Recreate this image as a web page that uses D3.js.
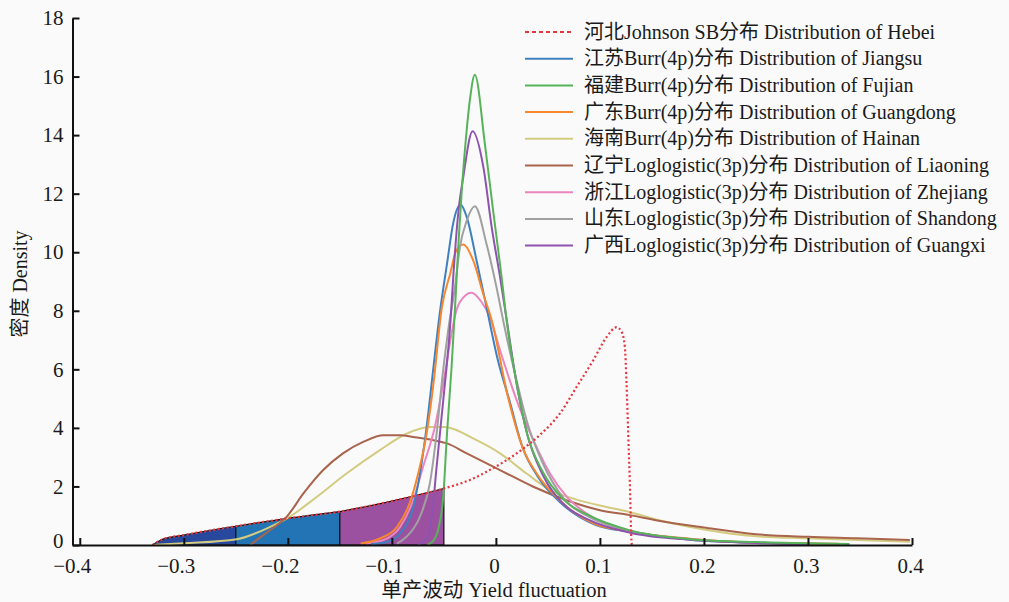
<!DOCTYPE html>
<html>
<head>
<meta charset="utf-8">
<script src="https://cdn.jsdelivr.net/npm/d3@7"></script>
<style>
  body { margin: 0; background: #fafafa; }
  svg { display: block; }
  text { font-family: "Liberation Serif", "Times New Roman", "Noto Sans CJK SC", serif; fill: #1a1a1a; }
</style>
</head>
<body>
<svg></svg>
<script>
const width = 1009;
const height = 602;

const xTicks = [-0.4, -0.3, -0.2, -0.1, 0, 0.1, 0.2, 0.3, 0.4];
const yTicks = [0, 2, 4, 6, 8, 10, 12, 14, 16, 18];

// shaded quantile bands under the Hebei curve
const bandEdges = [-0.33, -0.25, -0.15, -0.05];
const bandColors = ['#27489c', '#2374b5', '#9b51a0'];

// [yield fluctuation, density]
const hebei = [[-0.33, 0], [-0.32, 0.2], [-0.30, 0.34], [-0.25, 0.64], [-0.20, 0.91], [-0.15, 1.14],
  [-0.10, 1.5], [-0.05, 1.93], [-0.025, 2.22], [-0.006, 2.56], [0.02, 3.13], [0.042, 3.75],
  [0.0615, 4.49], [0.0776, 5.4], [0.0936, 6.31], [0.1064, 7.1], [0.116, 7.44], [0.121, 7.27],
  [0.124, 6.76], [0.1256, 5.51], [0.1272, 3.8], [0.1288, 2.1], [0.1305, 0.06], [0.131, 0]];
const jiangsu = [[-0.12, 0.03], [-0.105, 0.1], [-0.092, 0.4], [-0.0795, 1.3], [-0.073, 2.44],
  [-0.0666, 4.03], [-0.06, 6.08], [-0.054, 7.9], [-0.047, 9.6], [-0.041, 11.0], [-0.034, 11.63],
  [-0.028, 11.2], [-0.0186, 9.72], [-0.009, 8.12], [0.002, 6.3], [0.013, 4.94], [0.026, 3.3],
  [0.04, 2.35], [0.062, 1.45], [0.095, 0.7], [0.129, 0.45], [0.187, 0.18], [0.25, 0.08], [0.3, 0.04], [0.33, 0.03]];
const fujian = [[-0.066, 0], [-0.06, 0.15], [-0.055, 0.6], [-0.0506, 1.65], [-0.047, 3.8],
  [-0.0426, 6.08], [-0.0385, 8.6], [-0.036, 10.3], [-0.033, 12.0], [-0.028, 14.2], [-0.025, 15.2],
  [-0.0202, 16.06], [-0.0106, 13.7], [-0.0026, 11.4], [0.0055, 9.15], [0.0103, 7.67], [0.02, 5.5],
  [0.03, 3.8], [0.045, 2.5], [0.065, 1.55], [0.09, 1.0], [0.129, 0.5], [0.187, 0.2], [0.25, 0.1],
  [0.3, 0.06], [0.34, 0.03]];
const guangdong = [[-0.13, 0.05], [-0.111, 0.23], [-0.095, 0.62], [-0.083, 1.42], [-0.0747, 2.44],
  [-0.0666, 3.8], [-0.06, 5.51], [-0.052, 8.1], [-0.044, 9.26], [-0.038, 10.06], [-0.0314, 10.26],
  [-0.0218, 9.72], [-0.0122, 8.58], [-0.004, 7.67], [0.012, 5.0], [0.026, 3.3], [0.04, 2.4],
  [0.062, 1.5], [0.095, 0.72], [0.13, 0.45], [0.19, 0.2], [0.25, 0.08], [0.3, 0.05], [0.33, 0.04]];
const hainan = [[-0.33, 0], [-0.3, 0.06], [-0.249, 0.2], [-0.217, 0.62], [-0.198, 0.97],
  [-0.172, 1.65], [-0.1436, 2.44], [-0.1115, 3.24], [-0.086, 3.8], [-0.0635, 4.03], [-0.05, 4.03],
  [-0.0186, 3.58], [0.004, 3.13], [0.0295, 2.44], [0.052, 1.88], [0.0776, 1.55], [0.1064, 1.3],
  [0.129, 1.12], [0.155, 0.86], [0.2, 0.53], [0.25, 0.3], [0.3, 0.23], [0.347, 0.17], [0.398, 0.11]];
const liaoning = [[-0.236, 0], [-0.234, 0.06], [-0.217, 0.51], [-0.201, 0.97], [-0.185, 1.76],
  [-0.166, 2.56], [-0.147, 3.13], [-0.1276, 3.52], [-0.108, 3.75], [-0.092, 3.75], [-0.0795, 3.69],
  [-0.06, 3.58], [-0.047, 3.47], [-0.028, 3.13], [0.004, 2.56], [0.036, 1.99], [0.068, 1.53],
  [0.1, 1.19], [0.129, 1.02], [0.155, 0.84], [0.2, 0.6], [0.25, 0.37], [0.3, 0.28], [0.347, 0.23], [0.398, 0.17]];
const zhejiang = [[-0.125, 0.05], [-0.108, 0.17], [-0.092, 0.62], [-0.0795, 1.53], [-0.07, 2.67],
  [-0.0587, 4.03], [-0.0506, 5.51], [-0.0426, 7.22], [-0.038, 8.01], [-0.0346, 8.3], [-0.0234, 8.62],
  [-0.0138, 8.3], [-0.006, 7.8], [0.004, 6.65], [0.02, 4.94], [0.036, 3.58], [0.052, 2.44],
  [0.068, 1.65], [0.087, 1.08], [0.113, 0.62], [0.138, 0.4], [0.19, 0.2], [0.25, 0.08], [0.3, 0.04]];
const shandong = [[-0.095, 0.05], [-0.086, 0.28], [-0.073, 0.97], [-0.0635, 2.1], [-0.057, 3.8],
  [-0.0506, 6.0], [-0.046, 7.3], [-0.0394, 8.8], [-0.0346, 10.17], [-0.028, 11.08], [-0.0202, 11.57],
  [-0.009, 10.28], [0.0006, 8.8], [0.007, 7.67], [0.02, 5.6], [0.03, 4.2], [0.045, 2.8],
  [0.065, 1.6], [0.09, 0.95], [0.129, 0.48], [0.187, 0.2], [0.25, 0.08], [0.3, 0.04]];
const guangxi = [[-0.075, 0], [-0.065, 0.3], [-0.06, 1.53], [-0.057, 2.67], [-0.0506, 4.94],
  [-0.0436, 7.67], [-0.041, 9.15], [-0.036, 11.4], [-0.0314, 12.56], [-0.0224, 14.13],
  [-0.012, 12.9], [-0.004, 10.85], [0.004, 9.15], [0.010, 7.78], [0.02, 5.5], [0.03, 3.8],
  [0.045, 2.4], [0.065, 1.4], [0.09, 0.85], [0.129, 0.42], [0.187, 0.18], [0.25, 0.07], [0.3, 0.03]];

const seriesNames = [
  '河北Johnson SB分布 Distribution of Hebei',
  '江苏Burr(4p)分布 Distribution of Jiangsu',
  '福建Burr(4p)分布 Distribution of Fujian',
  '广东Burr(4p)分布 Distribution of Guangdong',
  '海南Burr(4p)分布 Distribution of Hainan',
  '辽宁Loglogistic(3p)分布 Distribution of Liaoning',
  '浙江Loglogistic(3p)分布 Distribution of Zhejiang',
  '山东Loglogistic(3p)分布 Distribution of Shandong',
  '广西Loglogistic(3p)分布 Distribution of Guangxi'
];
const seriesData = [hebei, jiangsu, fujian, guangdong, hainan, liaoning, zhejiang, shandong, guangxi];
const seriesColors = ['#e8353f', '#3f80c0', '#56b35a', '#f7862f', '#d3cc80', '#a8644c', '#ec84bd', '#a0a0a0', '#8e53ae'];

const svg = d3.select('svg').attr('width', width).attr('height', height);

const x = d3.scaleLinear().domain([-0.407, 0.4]).range([72.5, 912]);
const y = d3.scaleLinear().domain([0, 18]).range([545, 18]);

const line = d3.line().x(d => x(d[0])).y(d => y(d[1])).curve(d3.curveMonotoneX);
const area = d3.area().x(d => x(d[0])).y0(y(0)).y1(d => y(d[1])).curve(d3.curveMonotoneX);

// bands
for (let i = 0; i < bandColors.length; i++) {
  const lo = bandEdges[i], hi = bandEdges[i + 1];
  const pts = hebei.filter(d => d[0] >= lo - 1e-9 && d[0] <= hi + 1e-9);
  svg.append('path')
    .datum(pts)
    .attr('d', area)
    .attr('fill', bandColors[i])
    .attr('stroke', '#111')
    .attr('stroke-width', 1.2);
}

// curves, Hebei drawn last so its dots sit on top
const order = [4, 5, 6, 1, 3, 7, 8, 2, 0];
order.forEach(i => {
  svg.append('path')
    .datum(seriesData[i])
    .attr('d', line)
    .attr('fill', 'none')
    .attr('stroke', seriesColors[i])
    .attr('stroke-width', i === 0 ? 2.2 : 2)
    .attr('stroke-dasharray', i === 0 ? '2,2.5' : null);
});

// axes
const fmt = d => d === 0 ? '0' : d3.format('.1f')(d);
const xAxis = d3.axisBottom(x).tickValues(xTicks).tickFormat(fmt).tickSizeInner(-7).tickSizeOuter(0).tickPadding(13);
const yAxis = d3.axisLeft(y).tickValues(yTicks).tickFormat(d3.format('d')).tickSizeInner(-7).tickSizeOuter(0).tickPadding(9);

const gx = svg.append('g').attr('transform', 'translate(0,' + y(0) + ')').call(xAxis);
const gy = svg.append('g').attr('transform', 'translate(' + x.range()[0] + ',0)').call(yAxis);
[gx, gy].forEach(g => {
  g.select('.domain').attr('stroke', '#111').attr('stroke-width', 2);
  g.selectAll('.tick line').attr('stroke', '#111').attr('stroke-width', 2);
  g.selectAll('.tick text').style('font-size', '21px').attr('fill', '#1a1a1a');
});
gx.selectAll('.tick text')
  .attr('dy', '0.71em')
  .attr('dx', d => d < 0 ? -8 : -2);
// lift the "0" on the y axis a little so it clears the "-0.4" below it
gy.selectAll('.tick text').filter(d => d === 0).attr('dy', '0.12em');

svg.append('text')
  .attr('x', 494).attr('y', 597)
  .attr('text-anchor', 'middle')
  .style('font-size', '20.5px')
  .text('单产波动 Yield fluctuation');

svg.append('text')
  .attr('transform', 'translate(27,284) rotate(-90)')
  .attr('text-anchor', 'middle')
  .style('font-size', '20px')
  .text('密度 Density');

// legend
const legend = svg.append('g');
seriesNames.forEach((name, i) => {
  const ly = 32 + i * 26.7;
  legend.append('line')
    .attr('x1', 525).attr('x2', 573).attr('y1', ly).attr('y2', ly)
    .attr('stroke', seriesColors[i])
    .attr('stroke-width', 2)
    .attr('stroke-dasharray', i === 0 ? '4,3' : null);
  legend.append('text')
    .attr('x', 584).attr('y', ly + 6.5)
    .style('font-size', '20px')
    .text(name);
});
</script>
</body>
</html>
